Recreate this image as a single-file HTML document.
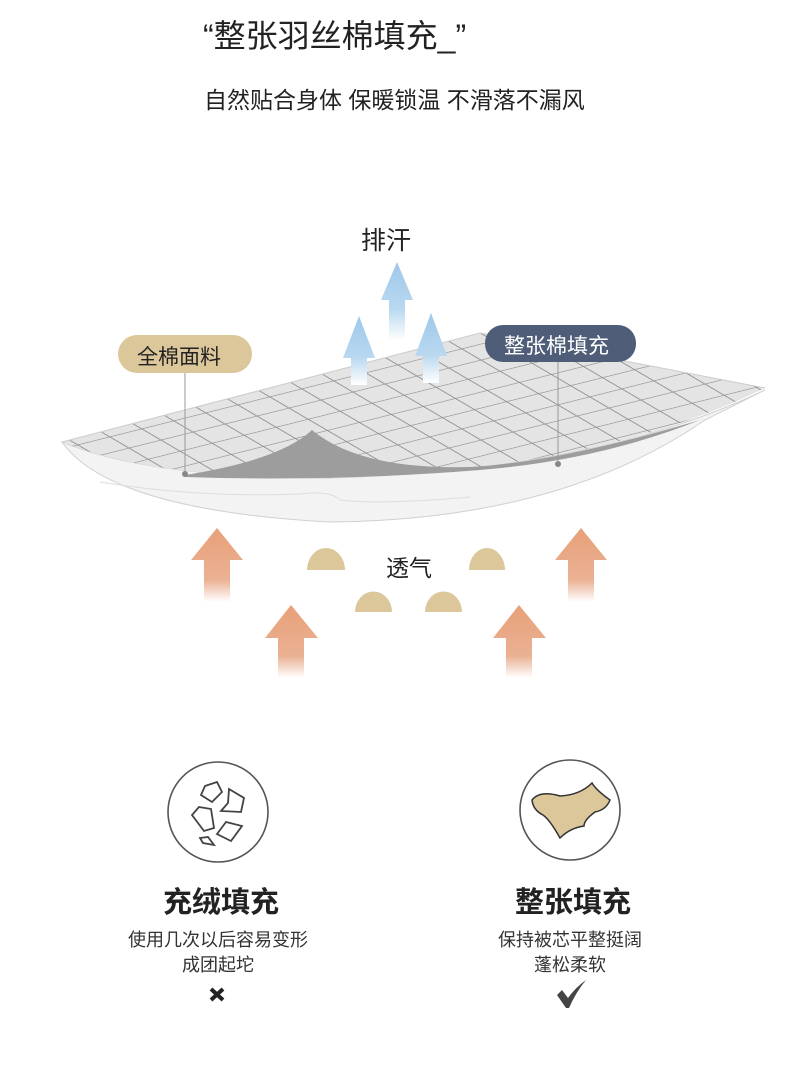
<!DOCTYPE html>
<html><head><meta charset="utf-8"><style>
body{margin:0;background:#fff;}
.t{position:absolute;font-family:"Liberation Sans","Noto Sans CJK SC",sans-serif;white-space:nowrap;}
</style></head><body>
<div style="position:relative;width:790px;height:1070px;overflow:hidden;">
<div class="t" style="left:203px;top:11px;font-size:32px;color:#222;">“整张羽丝棉填充_”</div>
<div class="t" style="left:204px;top:81px;font-size:23px;color:#222;">自然贴合身体 保暖锁温 不滑落不漏风</div>
<div class="t" style="left:361px;top:221px;font-size:25px;color:#222;">排汗</div>
<svg width="790" height="1070" style="position:absolute;left:0;top:0">
<defs>
<linearGradient id="bl" x1="0" y1="0" x2="0" y2="1"><stop offset="0" stop-color="#9fc8ea"/><stop offset="0.6" stop-color="#b9d8f0"/><stop offset="1" stop-color="#fff"/></linearGradient>
<linearGradient id="or" x1="0" y1="0" x2="0" y2="1"><stop offset="0" stop-color="#e8a078"/><stop offset="0.7" stop-color="#eab193"/><stop offset="1" stop-color="#fff"/></linearGradient>
<pattern id="grid" width="32" height="32" patternUnits="userSpaceOnUse" patternTransform="matrix(1,-0.25,0.6,0.35,0,0)"><rect width="32" height="32" fill="#e4e4e4"/><path d="M0 0H32M0 0V32" stroke="#8e8e8e" stroke-width="2.4" fill="none"/></pattern>
</defs>
<path d="M62 442 Q110 510 330 522 Q560 520 705 420 L765 390 Q600 470 330 478 Q150 478 62 442Z" fill="#f3f3f3" stroke="#d0d0d0"/>
<path d="M62 442 L480 333 L765 388 Q600 470 330 478 Q150 478 62 442Z" fill="url(#grid)"/>
<path d="M62 442 L480 333 L765 388" fill="none" stroke="#ccc"/>
<path d="M185 475 Q280 460 312 430 Q360 470 470 467 Q560 462 700 420 Q600 460 480 470 Q330 482 185 477Z" fill="#9d9d9d"/>
<path d="M100 482 Q200 498 300 494 Q330 490 340 500 Q380 505 470 497" fill="none" stroke="#ddd"/>
<path d="M397 262 L413 300 L405 300 L405 340 L389 340 L389 300 L381 300Z" fill="url(#bl)"/>
<path d="M359 316 L375 358 L367 358 L367 385 L351 385 L351 358 L343 358Z" fill="url(#bl)"/>
<path d="M431 313 L447 356 L439 356 L439 383 L423 383 L423 356 L415 356Z" fill="url(#bl)"/>
<line x1="185" y1="370" x2="185" y2="475" stroke="#999"/><circle cx="185" cy="474" r="3" fill="#888"/>
<line x1="558" y1="360" x2="558" y2="465" stroke="#999"/><circle cx="558" cy="464" r="3" fill="#888"/>
<rect x="118" y="335" width="134" height="38" rx="19" fill="#dcc79a"/>
<rect x="485" y="325" width="151" height="37" rx="18" fill="#4f5d78"/>
<path d="M217 528 L243 560 L230 560 L230 602 L204 602 L204 560 L191 560Z" fill="url(#or)"/>
<path d="M581 528 L607 560 L594 560 L594 602 L568 602 L568 560 L555 560Z" fill="url(#or)"/>
<path d="M291 605 L318 638 L304 638 L304 678 L278 678 L278 638 L265 638Z" fill="url(#or)"/>
<path d="M519 605 L546 638 L532 638 L532 678 L506 678 L506 638 L493 638Z" fill="url(#or)"/>
<path d="M307 570 A19 22 0 0 1 345 570Z" fill="#dcc79a"/>
<path d="M469 570 A18 22 0 0 1 505 570Z" fill="#dcc79a"/>
<path d="M355 612 A18 20 0 0 1 392 612Z" fill="#dcc79a"/>
<path d="M425 612 A18 20 0 0 1 462 612Z" fill="#dcc79a"/>
<circle cx="218" cy="812" r="50" fill="none" stroke="#555" stroke-width="1.6"/>
<g fill="none" stroke="#444" stroke-width="1.8">
<path d="M205 786 L217 782 L222 792 L212 802 L201 795Z"/>
<path d="M229 789 L244 798 L241 812 L221 811 L228 803Z"/>
<path d="M199 807 L211 809 L214 828 L204 831 L192 815Z"/>
<path d="M226 822 L242 826 L231 841 L217 834Z"/>
<path d="M200 838 L208 837 L214 845 L203 843Z"/>
</g>
<circle cx="570" cy="810" r="50" fill="none" stroke="#555" stroke-width="1.6"/>
<path d="M532 800 Q540 790 560 796 Q580 795 592 783 Q596 790 610 800 Q606 810 595 812 Q584 820 584 826 Q570 828 560 838 Q550 820 543 815 Q533 810 532 800Z" fill="#dcc79a" stroke="#333" stroke-width="1.5"/>
<path d="M211 989 L223 1000 M223 989 L211 1000" stroke="#222" stroke-width="4"/>
<path d="M557 995 L562 990 L568 998 Q575 988 586 980 Q576 992 569 1008 L566 1008Z" fill="#444"/>
</svg>
<div class="t" style="left:137px;top:341px;font-size:21px;color:#222;">全棉面料</div>
<div class="t" style="left:504px;top:330px;font-size:21px;color:#fff;">整张棉填充</div>
<div class="t" style="left:386px;top:549px;font-size:23px;color:#222;">透气</div>
<div class="t" style="left:163px;top:879px;font-size:29px;color:#222;font-weight:bold;">充绒填充</div>
<div class="t" style="left:515px;top:879px;font-size:29px;color:#222;font-weight:bold;">整张填充</div>
<div class="t" style="left:118px;top:928px;width:200px;text-align:center;font-size:18px;color:#333;line-height:25px;">使用几次以后容易变形<br>成团起坨</div>
<div class="t" style="left:470px;top:928px;width:200px;text-align:center;font-size:18px;color:#333;line-height:25px;">保持被芯平整挺阔<br>蓬松柔软</div>
</div>
</body></html>
